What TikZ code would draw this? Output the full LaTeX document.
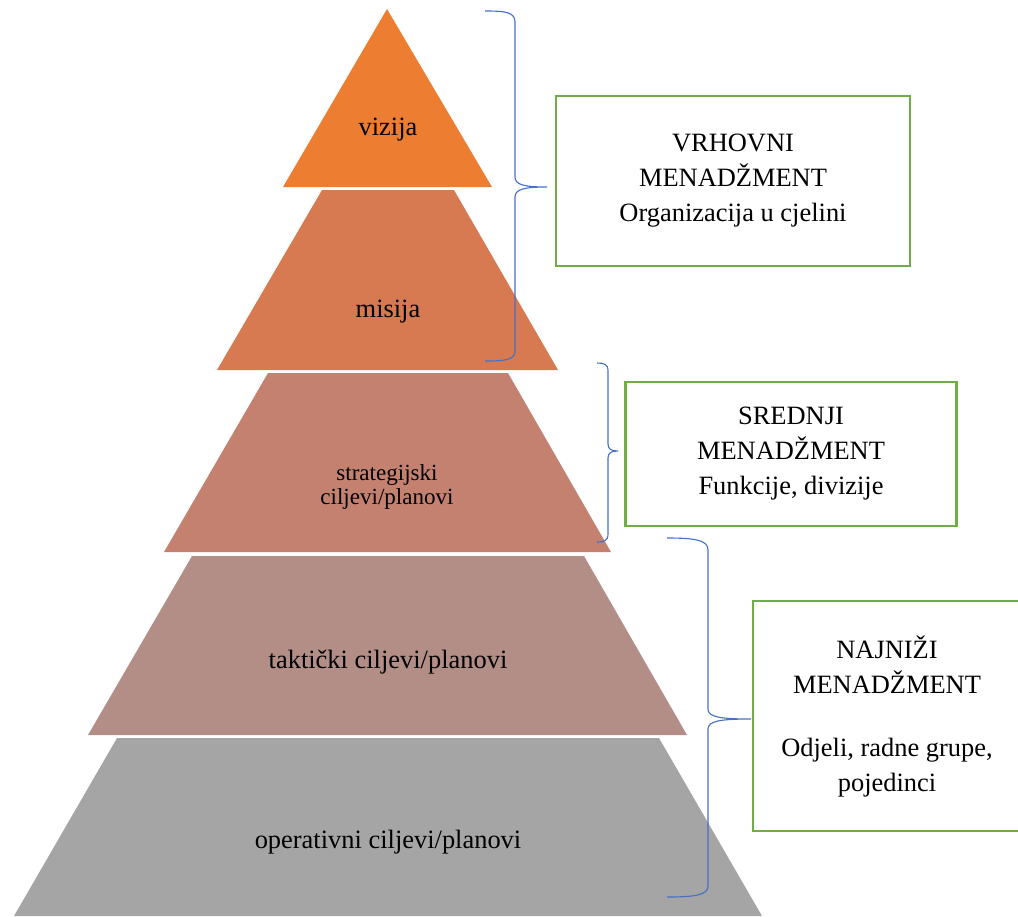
\documentclass[tikz,border=0pt]{standalone}
\usepackage{fontspec}
\setmainfont{Liberation Serif}
\definecolor{vizijaboja}{RGB}{237,125,49}
\definecolor{misijaboja}{RGB}{215,121,81}
\definecolor{strategboja}{RGB}{196,129,112}
\definecolor{taktboja}{RGB}{179,142,135}
\definecolor{operboja}{RGB}{165,165,165}
\definecolor{plava}{RGB}{68,114,196}
\definecolor{zelena}{RGB}{112,173,71}
\tikzset{
  sloj/.style={font=\fontsize{18.8}{24.9}\selectfont, inner sep=0pt},
  okvir/.style={draw=zelena, line width=1.8pt, align=center, inner sep=0pt,
    font=\fontsize{18.8}{24.9}\selectfont},
  zagrada/.style={draw=plava, line width=0.8pt},
}

\begin{document}
\begin{tikzpicture}[x=0.025cm,y=-0.025cm]
\useasboundingbox (0,0) rectangle (1018,916);

% piramida
\fill [vizijaboja] (387,9) -- (492,187) -- (283,187) -- cycle;
\fill [misijaboja] (322,190) -- (454,190) -- (558,370) -- (217,370) -- cycle;
\fill [strategboja] (268,373) -- (508,373) -- (611,552) -- (164,552) -- cycle;
\fill [taktboja] (192,556) -- (584,556) -- (687,735) -- (88,735) -- cycle;
\fill [operboja] (117,738) -- (659,738) -- (762,916) -- (14,916) -- cycle;

\node [sloj, anchor=base] (vizija) at (388,135) {vizija};
\node [sloj, anchor=base] (misija) at (388,317) {misija};
\node [sloj, align=center, font=\fontsize{16.4}{17.1}\selectfont] (strateg) at (387,487) {strategijski\\ciljevi/planovi};
\node [sloj, anchor=base] (takt) at (388,668) {taktički ciljevi/planovi};
\node [sloj, anchor=base] (oper) at (388,848) {operativni ciljevi/planovi};

% zagrade
\draw [zagrada] (485,11) .. controls (505,11) and (515,12) .. (515,22) -- (515,177)
  .. controls (515,185) and (525,187) .. (547,187) .. controls (525,187) and (515,189) .. (515,197)
  -- (515,351) .. controls (515,360) and (505,361) .. (485,361);
\draw [zagrada] (597,363) .. controls (604,363) and (608,364) .. (608,371) -- (608,444)
  .. controls (608,449) and (611,451) .. (618,451) .. controls (611,451) and (608,453) .. (608,458)
  -- (608,534) .. controls (608,541) and (604,542) .. (597,542);
\draw [zagrada] (667,538) .. controls (695,538) and (708,540) .. (708,550) -- (708,709)
  .. controls (708,717) and (720,719) .. (751,719) .. controls (720,719) and (708,721) .. (708,729)
  -- (708,886) .. controls (708,895) and (695,897) .. (667,897);

% razine menadzmenta
\node [okvir, minimum width=8.85cm, minimum height=4.25cm] (vrhovni) at (733,181)
  {VRHOVNI\\MENADŽMENT\\Organizacija u cjelini};
\node [okvir, minimum width=8.275cm, minimum height=3.6cm] (srednji) at (791,454)
  {SREDNJI\\MENADŽMENT\\Funkcije, divizije};
\node [okvir, minimum width=6.7cm, minimum height=5.75cm] (najnizi) at (887,716)
  {NAJNIŽI\\MENADŽMENT\\[19.9pt]Odjeli, radne grupe,\\pojedinci};

\end{tikzpicture}
\end{document}
